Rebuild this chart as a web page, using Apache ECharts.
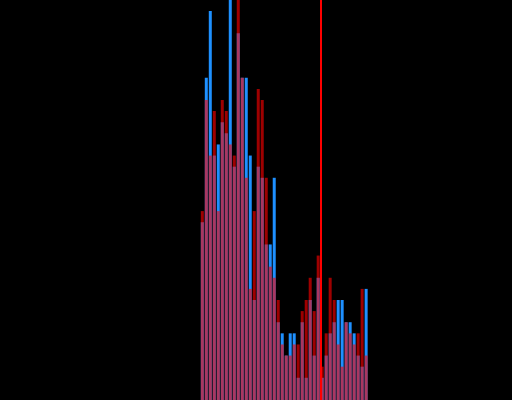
<!DOCTYPE html>
<html>
<head>
<meta charset="utf-8">
<script src="https://cdn.jsdelivr.net/npm/echarts@6/dist/echarts.min.js"></script>
<style>
html,body{margin:0;padding:0;background:#000;}
#chart{width:512px;height:400px;}
</style>
</head>
<body>
<div id="chart"></div>
<script>
// Bin centers (x values)
var binCenters = [50.5,51.5,52.5,53.5,54.5,55.5,56.5,57.5,58.5,59.5,60.5,61.5,62.5,63.5,64.5,65.5,66.5,67.5,68.5,69.5,70.5,71.5,72.5,73.5,74.5,75.5,76.5,77.5,78.5,79.5,80.5,81.5,82.5,83.5,84.5,85.5,86.5,87.5,88.5,89.5,90.5,91.5];
// Counts of the blue histogram
var blueCounts = [16,29,35,22,23,25,24,36,21,33,29,29,22,9,21,20,14,14,20,7,6,4,6,6,2,7,2,9,4,11,2,4,6,7,9,9,7,7,6,4,3,10];
// Counts of the red histogram
var redCounts = [17,27,22,26,17,27,26,23,22,36,29,20,10,17,28,27,20,12,11,9,5,4,4,5,5,8,9,11,8,13,3,6,11,9,5,3,7,6,5,6,10,4];
// Vertical marker (mean)
var markerValue = 80.125;

function pairs(xs, ys){ var o=[]; for(var i=0;i<xs.length;i++){o.push([xs[i], ys[i]]);} return o; }

var chart = echarts.init(document.getElementById('chart'), null, {renderer:'canvas'});
chart.setOption({
  backgroundColor:'#000',
  animation:false,
  grid:{left:0.5, top:0, width:512, height:400, containLabel:false},
  xAxis:{type:'value', min:0, max:128, show:false, splitLine:{show:false}},
  yAxis:{type:'value', min:0, max:36, show:false, splitLine:{show:false}},
  series:[
    {
      type:'bar', data:pairs(binCenters, blueCounts), barWidth:3, barGap:'-100%',
      itemStyle:{color:'#1e90ff'}, silent:true
    },
    {
      type:'bar', data:pairs(binCenters, redCounts), barWidth:3, barGap:'-100%',
      itemStyle:{color:'rgba(255,0,0,0.62)'}, silent:true,
      markLine:{
        silent:true, symbol:['none','none'], label:{show:false},
        lineStyle:{color:'#ff0000', width:2, type:'solid', opacity:1},
        data:[{xAxis:markerValue}]
      }
    }
  ]
});
</script>
</body>
</html>
